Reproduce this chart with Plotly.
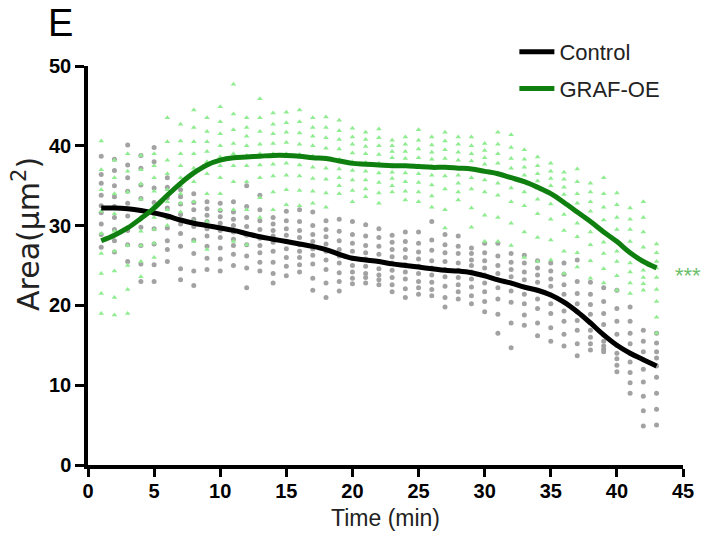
import plotly.graph_objects as go

time_points = list(range(1, 44))

control_mean = [32.2, 32.2, 32.1, 31.9, 31.6, 31.2, 30.7, 30.3, 30.0, 29.7,
                29.4, 29.0, 28.6, 28.3, 28.0, 27.7, 27.4, 27.0, 26.4, 25.9,
                25.7, 25.5, 25.2, 25.0, 24.8, 24.6, 24.4, 24.3, 24.1, 23.7,
                23.2, 22.8, 22.3, 21.9, 21.3, 20.4, 19.2, 17.8, 16.3, 15.0,
                14.0, 13.2, 12.4]

graf_mean = [28.1, 28.8, 29.7, 30.9, 32.2, 33.8, 35.3, 36.6, 37.6, 38.2,
             38.5, 38.6, 38.7, 38.8, 38.8, 38.7, 38.5, 38.4, 38.1, 37.8,
             37.7, 37.6, 37.5, 37.5, 37.4, 37.3, 37.3, 37.2, 37.1, 36.8,
             36.5, 36.0, 35.5, 34.8, 34.0, 32.9, 31.7, 30.5, 29.2, 28.0,
             26.6, 25.5, 24.7]

control_dots = [
    [38.7, 36.4, 35.3, 33.8, 32.5, 31.6, 30.2, 28.9, 27.3],
    [38.3, 36.9, 35.0, 33.6, 32.4, 31.0, 29.5, 28.1, 26.7],
    [40.1, 37.6, 36.0, 34.3, 32.8, 31.2, 29.4, 27.6, 25.5],
    [38.8, 37.2, 35.1, 33.4, 31.9, 29.8, 27.5, 25.2, 23.0],
    [39.8, 38.0, 34.7, 32.9, 31.5, 29.6, 27.7, 25.1, 23.0],
    [36.0, 34.8, 33.5, 32.2, 31.0, 29.7, 28.1, 27.0, 25.5],
    [34.5, 33.6, 32.7, 31.4, 30.2, 29.0, 27.4, 24.6, 23.2],
    [34.0, 32.9, 32.0, 30.8, 29.9, 28.2, 26.5, 24.3, 22.5],
    [33.0, 32.1, 31.3, 30.5, 29.6, 28.7, 27.4, 25.9, 24.5],
    [32.8, 31.9, 31.1, 30.3, 29.4, 28.5, 27.2, 25.8, 24.3],
    [33.0, 31.7, 30.8, 30.0, 29.2, 28.3, 27.5, 26.4, 25.0],
    [35.0, 32.4, 31.0, 29.9, 28.8, 27.6, 26.2, 24.7, 22.2],
    [33.8, 32.0, 30.6, 29.5, 28.4, 27.5, 26.6, 25.4, 24.3],
    [31.0, 30.2, 29.4, 28.7, 27.9, 26.8, 25.4, 24.0, 22.8],
    [31.8, 30.6, 29.6, 28.8, 28.0, 27.1, 26.0, 24.9, 23.7],
    [32.0, 30.5, 29.4, 28.5, 27.6, 26.8, 26.0, 25.1, 24.2],
    [31.7, 30.0, 28.9, 28.0, 27.1, 26.3, 25.2, 23.4, 21.9],
    [30.6, 29.5, 28.6, 27.7, 26.8, 25.7, 24.5, 22.8, 21.0],
    [30.8, 29.3, 28.1, 27.0, 26.2, 25.3, 24.1, 23.0, 21.8],
    [30.5, 28.9, 27.8, 26.8, 25.9, 25.0, 24.2, 23.4, 22.7],
    [30.1, 28.7, 27.5, 26.6, 25.8, 24.9, 24.0, 23.5, 22.8],
    [29.6, 28.5, 27.4, 26.4, 25.5, 24.6, 23.8, 23.2, 22.6],
    [28.8, 27.9, 27.0, 26.1, 25.3, 24.4, 23.5, 22.6, 21.7],
    [29.2, 28.0, 27.0, 26.0, 25.1, 24.2, 23.3, 22.1, 21.0],
    [29.2, 27.8, 26.7, 25.8, 24.9, 24.0, 23.0, 22.2, 21.4],
    [30.5, 28.2, 26.9, 25.6, 24.7, 23.8, 22.9, 22.0, 21.2],
    [28.9, 27.6, 26.6, 25.5, 24.5, 23.6, 22.4, 21.0, 19.8],
    [28.7, 27.4, 26.5, 25.3, 24.4, 23.5, 22.6, 21.7, 20.8],
    [27.2, 26.5, 25.7, 25.0, 24.2, 23.3, 22.3, 21.2, 20.2],
    [27.8, 26.6, 25.6, 24.7, 23.8, 22.8, 21.7, 20.5, 19.2],
    [27.8, 26.2, 25.0, 24.0, 23.2, 22.2, 20.8, 18.9, 16.5],
    [26.5, 25.4, 24.5, 23.6, 22.8, 21.8, 20.4, 17.8, 14.7],
    [26.3, 25.3, 24.2, 23.2, 22.3, 21.4, 20.2, 18.8, 17.5],
    [25.6, 24.7, 23.8, 22.9, 21.9, 20.8, 19.6, 17.8, 16.2],
    [25.3, 24.3, 23.3, 22.4, 21.3, 20.2, 19.0, 17.2, 15.5],
    [25.3, 23.9, 22.6, 21.4, 20.4, 19.3, 18.0, 16.4, 14.9],
    [25.7, 23.0, 21.5, 20.2, 19.2, 18.1, 16.9, 15.2, 13.7],
    [22.9, 21.4, 20.1, 18.9, 17.8, 16.9, 16.0, 15.2, 14.4],
    [22.2, 20.5, 19.0, 17.6, 16.3, 15.5, 14.9, 14.5, 14.2],
    [21.9, 19.6, 18.0, 16.4, 15.0, 14.0, 13.3, 12.5, 11.7],
    [19.8, 18.0, 16.5, 15.2, 14.0, 12.9, 11.6, 10.3, 9.0],
    [16.9, 15.5, 14.2, 13.2, 12.0, 10.4, 8.6, 6.8, 4.9],
    [16.5, 15.3, 14.2, 13.4, 12.4, 11.0, 9.0, 7.0, 5.0],
]

graf_dots = [
    [40.6, 37.0, 34.5, 31.8, 29.0, 26.5, 24.0, 21.5, 19.0],
    [38.2, 36.0, 34.0, 31.5, 29.3, 26.8, 24.3, 21.0, 18.8],
    [39.0, 36.8, 34.2, 32.0, 29.8, 27.5, 25.0, 22.0, 19.0],
    [38.8, 37.0, 35.2, 33.3, 31.0, 29.3, 27.5, 25.5, 23.6],
    [39.0, 37.5, 36.0, 34.3, 32.5, 31.0, 29.5, 27.8, 26.0],
    [43.5, 40.5, 38.2, 36.5, 34.5, 33.0, 32.0, 31.0, 30.0],
    [42.7, 40.6, 39.0, 37.5, 36.0, 35.0, 34.0, 32.8, 31.7],
    [44.5, 42.3, 40.5, 39.0, 37.2, 35.5, 33.0, 30.5, 28.0],
    [43.5, 41.8, 40.5, 39.3, 38.0, 36.5, 34.0, 30.5, 27.0],
    [44.9, 43.0, 41.5, 40.0, 38.6, 37.5, 36.0, 34.0, 32.0],
    [47.7, 44.0, 42.0, 40.3, 39.0, 37.5, 35.5, 32.0, 28.0],
    [43.5, 42.3, 41.2, 40.0, 38.8, 37.5, 35.5, 32.0, 27.6],
    [45.9, 43.5, 41.8, 40.2, 39.0, 37.6, 36.0, 33.5, 31.0],
    [44.1, 42.7, 41.5, 40.3, 39.0, 37.7, 36.2, 34.2, 32.0],
    [44.2, 42.9, 41.7, 40.4, 39.0, 37.8, 36.3, 34.5, 32.6],
    [44.5, 43.0, 41.6, 40.2, 38.9, 37.6, 36.2, 34.4, 32.5],
    [43.5, 42.3, 41.2, 40.0, 38.7, 37.3, 35.9, 34.3, 32.8],
    [43.6, 42.3, 41.0, 39.7, 38.5, 37.2, 35.8, 34.1, 32.3],
    [43.2, 41.9, 40.8, 39.6, 38.3, 37.1, 36.0, 35.0, 34.0],
    [42.2, 41.1, 40.2, 39.1, 38.0, 36.9, 35.7, 34.4, 33.0],
    [41.7, 40.8, 39.9, 39.0, 37.9, 36.8, 35.7, 34.6, 33.6],
    [42.1, 41.0, 40.0, 38.9, 37.8, 36.6, 35.4, 34.1, 32.8],
    [40.7, 40.0, 39.3, 38.5, 37.6, 36.7, 35.9, 35.0, 34.2],
    [41.1, 40.2, 39.3, 38.4, 37.5, 36.6, 35.5, 34.3, 33.2],
    [42.0, 40.7, 39.6, 38.5, 37.5, 36.5, 35.4, 34.2, 33.0],
    [41.1, 40.1, 39.2, 38.3, 37.4, 36.3, 35.1, 33.7, 32.3],
    [41.7, 40.6, 39.5, 38.4, 37.3, 36.2, 34.6, 32.0, 29.7],
    [41.1, 40.2, 39.2, 38.2, 37.2, 36.3, 35.3, 34.2, 33.2],
    [41.1, 40.0, 39.0, 38.1, 37.1, 36.0, 34.6, 32.2, 29.8],
    [40.3, 39.4, 38.5, 37.7, 36.8, 35.7, 34.2, 31.3, 28.0],
    [41.7, 40.2, 39.0, 37.8, 36.6, 35.3, 33.8, 31.0, 28.0],
    [41.4, 39.8, 38.4, 37.2, 36.0, 34.7, 33.0, 30.3, 27.5],
    [39.5, 38.3, 37.3, 36.3, 35.4, 34.2, 32.5, 29.2, 26.0],
    [38.6, 37.5, 36.5, 35.6, 34.7, 33.3, 31.5, 28.5, 25.5],
    [37.8, 36.8, 35.9, 35.0, 34.0, 32.7, 30.8, 28.2, 25.7],
    [36.7, 35.8, 34.8, 33.9, 32.9, 31.4, 29.4, 26.8, 24.0],
    [37.1, 35.5, 34.0, 32.8, 31.7, 30.3, 28.6, 26.6, 24.8],
    [35.3, 34.2, 33.0, 31.8, 30.5, 29.2, 27.6, 25.6, 23.4],
    [36.0, 34.0, 32.3, 30.7, 29.2, 27.9, 26.5, 24.6, 22.8],
    [34.1, 32.6, 31.0, 29.5, 28.0, 26.8, 25.5, 23.7, 21.9],
    [32.2, 30.8, 29.5, 28.0, 26.6, 25.3, 24.2, 22.8, 21.5],
    [33.0, 31.0, 29.2, 27.3, 25.5, 24.4, 23.5, 22.7, 21.9],
    [27.7, 26.6, 25.5, 24.7, 23.5, 22.0, 20.5, 18.5, 16.5],
]

x_ticks = [0, 5, 10, 15, 20, 25, 30, 35, 40, 45]
y_ticks = [0, 10, 20, 30, 40, 50]


def flatten(dots):
    xs, ys = [], []
    for t, vals in zip(time_points, dots):
        for v in vals:
            xs.append(t)
            ys.append(v)
    return xs, ys


cx, cy = flatten(control_dots)
gx, gy = flatten(graf_dots)

fig = go.Figure()
fig.add_trace(go.Scatter(x=cx, y=cy, mode="markers", showlegend=False,
                         marker=dict(symbol="circle", size=5, color="#a2a2a2"),
                         hoverinfo="skip"))
fig.add_trace(go.Scatter(x=gx, y=gy, mode="markers", showlegend=False,
                         marker=dict(symbol="triangle-up", size=5, color="#90ec90"),
                         hoverinfo="skip"))
fig.add_trace(go.Scatter(x=time_points, y=control_mean, mode="lines", name="Control",
                         legendgroup="c",
                         line=dict(color="black", width=5, shape="spline")))
fig.add_trace(go.Scatter(x=time_points, y=graf_mean, mode="lines", name="GRAF-OE",
                         legendgroup="g",
                         line=dict(color="#0f800f", width=5, shape="spline")))

# significance marker
fig.add_annotation(x=43, y=graf_mean[-1], xref="x", yref="y", text="***",
                   showarrow=False, xanchor="left", xshift=16, yshift=-8,
                   font=dict(family="Liberation Sans", size=22, color="#6cbf6c"))

# panel letter
fig.add_annotation(x=0, y=1, xref="paper", yref="paper", text="E",
                   showarrow=False, xanchor="left", yanchor="top",
                   xshift=-42, yshift=66,
                   font=dict(family="Liberation Sans", size=38, color="black"))

# y-axis title
fig.add_annotation(x=0, y=0.579, xref="paper", yref="paper",
                   text="Area(μm<sup>2</sup>)", textangle=-90,
                   showarrow=False, xanchor="center", yanchor="middle",
                   xshift=-61,
                   font=dict(family="DejaVu Sans", size=30, color="#222"))

fig.update_layout(
    width=713, height=539,
    margin=dict(l=88, r=30, t=66, b=74),
    plot_bgcolor="white", paper_bgcolor="white",
    font=dict(family="Liberation Sans", color="black"),
    legend=dict(x=0.7166, y=1.0877, xanchor="left", yanchor="top",
                bgcolor="rgba(0,0,0,0)", font=dict(size=22, color="#222"),
                tracegroupgap=5, itemwidth=35),
)
fig.update_xaxes(range=[0, 45], tickvals=x_ticks, showgrid=False, zeroline=False,
                 automargin=False,
                 showline=True, linecolor="black", linewidth=3.5,
                 ticks="outside", ticklen=8, tickwidth=3, tickcolor="black",
                 ticklabelstandoff=-3,
                 tickfont=dict(size=20, weight="bold", color="black"),
                 title=dict(text="Time (min)", font=dict(size=23, color="#222"), standoff=10))
fig.update_yaxes(range=[0, 50], tickvals=y_ticks, showgrid=False, zeroline=False,
                 automargin=False,
                 showline=True, linecolor="black", linewidth=3.5,
                 ticks="outside", ticklen=9, tickwidth=3, tickcolor="black",
                 tickfont=dict(size=20, weight="bold", color="black"))

fig.write_html("out.html",
               config={"displayModeBar": False},
               post_script="document.body.style.margin='0';document.body.style.overflow='hidden';")
